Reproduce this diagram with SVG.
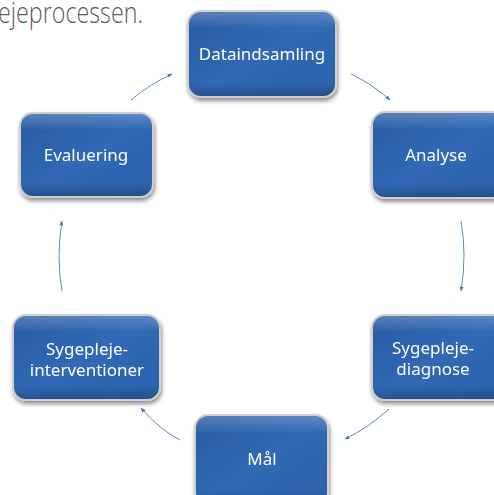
<svg xmlns="http://www.w3.org/2000/svg" width="494" height="495" viewBox="0 0 494 495">
<defs>
<linearGradient id="g" x1="0" y1="0" x2="1" y2="1">
<stop offset="0" stop-color="#2a5ca2"/>
<stop offset="0.5" stop-color="#3068b5"/>
<stop offset="1" stop-color="#2d61ab"/>
</linearGradient>
<linearGradient id="hl" x1="0" y1="0" x2="0" y2="1">
<stop offset="0" stop-color="#ffffff" stop-opacity="0.22"/>
<stop offset="0.2" stop-color="#ffffff" stop-opacity="0"/>
<stop offset="0.85" stop-color="#000000" stop-opacity="0"/>
<stop offset="1" stop-color="#000000" stop-opacity="0.22"/>
</linearGradient>
<filter id="sh" x="-20%" y="-20%" width="140%" height="150%">
<feGaussianBlur in="SourceAlpha" stdDeviation="2"/>
<feOffset dx="1" dy="3" result="b"/>
<feComponentTransfer><feFuncA type="linear" slope="0.45"/></feComponentTransfer>
<feMerge><feMergeNode/><feMergeNode in="SourceGraphic"/></feMerge>
</filter>
<marker id="ah" viewBox="0 0 10 10" refX="9" refY="5" markerWidth="5" markerHeight="5" orient="auto">
<path d="M0,1 L10,5 L0,9 z" fill="#4a7cc4"/>
</marker>
</defs>
<style>
.box{fill:url(#g);stroke:#cfcfcf;stroke-width:2}
.hl{fill:url(#hl);stroke:none}
.t{font-family:"Noto Sans","Open Sans",sans-serif;font-size:17px;fill:#ffffff;text-anchor:middle}
.c{fill:none;stroke:#5a88cc;stroke-width:1}
</style>
<text x="-2" y="23" font-family="'Open Sans','Noto Sans',sans-serif" font-weight="300" font-size="30" fill="#5a5a5a" textLength="145" lengthAdjust="spacingAndGlyphs">ejeprocessen.</text>
<g id="connectors">
<path class="c" d="M131,100 Q150,84 172,74" marker-end="url(#ah)"/>
<path class="c" d="M351,74 Q372,84 390,100" marker-end="url(#ah)"/>
<path class="c" d="M461,221 Q467,255 461,291" marker-end="url(#ah)"/>
<path class="c" d="M389,409 Q368,428 345,439" marker-end="url(#ah)"/>
<path class="c" d="M180,440 Q160,430 141,408" marker-end="url(#ah)"/>
<path class="c" d="M62,291 Q56,257 62,221" marker-end="url(#ah)"/>
</g>
<g id="n-data" filter="url(#sh)">
<rect class="box" x="188" y="11" width="148" height="86" rx="13"/>
<rect class="hl" x="189" y="12" width="146" height="84" rx="12"/>
<text class="t" x="262" y="60">Dataindsamling</text>
</g>
<g id="n-analyse" filter="url(#sh)">
<rect class="box" x="372" y="112" width="134" height="86" rx="13"/>
<rect class="hl" x="373" y="113" width="132" height="84" rx="12"/>
<text class="t" x="436" y="161">Analyse</text>
</g>
<g id="n-eval" filter="url(#sh)">
<rect class="box" x="20" y="113" width="133" height="84" rx="13"/>
<rect class="hl" x="21" y="114" width="131" height="82" rx="12"/>
<text class="t" x="86" y="161">Evaluering</text>
</g>
<g id="n-interv" filter="url(#sh)">
<rect class="box" x="13" y="315" width="147" height="85" rx="13"/>
<rect class="hl" x="14" y="316" width="145" height="83" rx="12"/>
<text class="t" x="87" y="355">Sygepleje-</text>
<text class="t" x="87" y="376">interventioner</text>
</g>
<g id="n-diag" filter="url(#sh)">
<rect class="box" x="372" y="315" width="134" height="85" rx="13"/>
<rect class="hl" x="373" y="316" width="132" height="83" rx="12"/>
<text class="t" x="433" y="354">Sygepleje-</text>
<text class="t" x="433" y="375">diagnose</text>
</g>
<g id="n-maal" filter="url(#sh)">
<rect class="box" x="195" y="415" width="133" height="90" rx="13"/>
<rect class="hl" x="196" y="416" width="131" height="88" rx="12"/>
<text class="t" x="262" y="465">Mål</text>
</g>
</svg>
